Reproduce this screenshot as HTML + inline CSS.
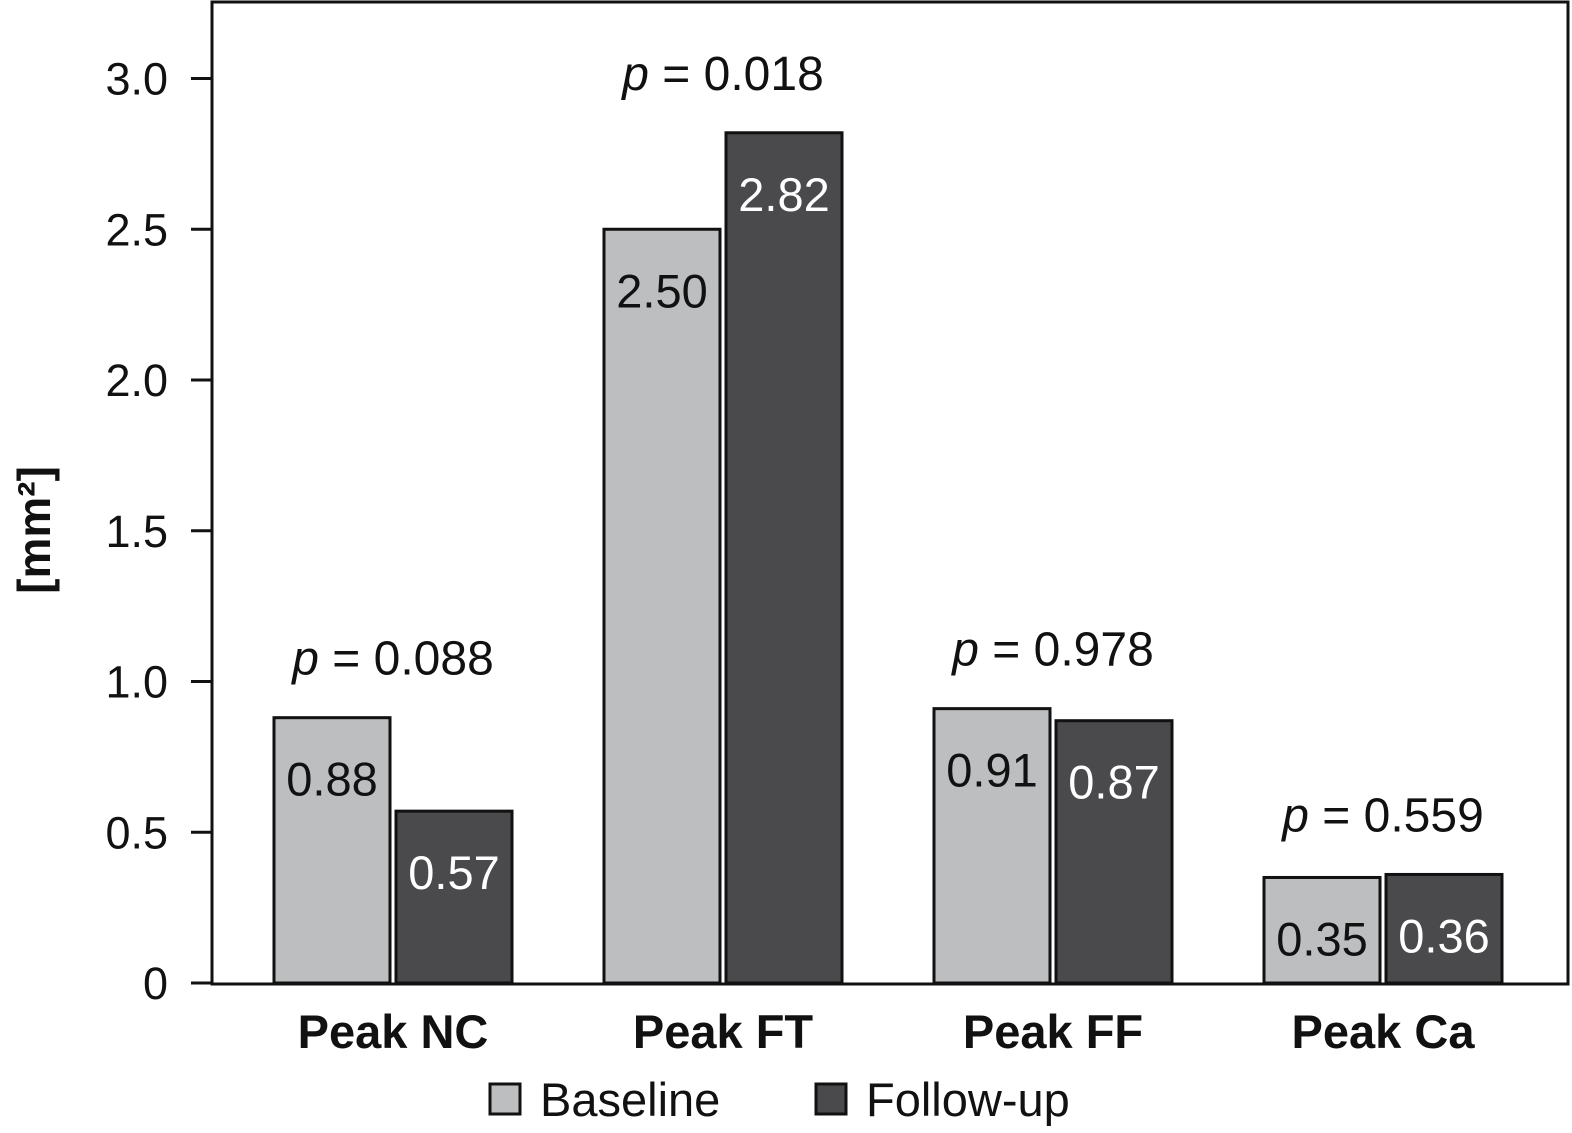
<!DOCTYPE html>
<html><head><meta charset="utf-8"><style>
html,body{margin:0;padding:0;background:#fff;}
svg{display:block;font-family:"Liberation Sans",sans-serif;}
</style></head><body>
<svg id="chart" width="1572" height="1133" viewBox="0 0 1572 1133">
<rect x="212" y="2" width="1356" height="982" fill="none" stroke="#111" stroke-width="3"/>
<text transform="translate(50,530) rotate(-90)" text-anchor="middle" font-size="46" font-weight="bold" fill="#111">[mm²]</text>
<g id="ticks"></g><g id="bars"></g>
<g>
<rect x="490" y="1084" width="30" height="30" fill="#bdbec0" stroke="#111" stroke-width="3"/>
<text x="540" y="1116" font-size="47" fill="#111">Baseline</text>
<rect x="816" y="1084" width="30" height="30" fill="#4a4a4c" stroke="#111" stroke-width="3"/>
<text x="866" y="1116" font-size="47" fill="#111">Follow-up</text>
</g>
</svg>
<script>
const categories=["Peak NC","Peak FT","Peak FF","Peak Ca"];
const baseline=[0.88,2.50,0.91,0.35];
const followup=[0.57,2.82,0.87,0.36];
const pvalues=["0.088","0.018","0.978","0.559"];
const yTicks=[0,0.5,1.0,1.5,2.0,2.5,3.0];
const yTickLabels=["0","0.5","1.0","1.5","2.0","2.5","3.0"];
const NS="http://www.w3.org/2000/svg";
const y0=983,pxPerUnit=301.5;
function y(v){return y0-v*pxPerUnit;}
function gx(i){return 393+i*330;}
function mk(tag,attrs,parent,text){const e=document.createElementNS(NS,tag);for(const k in attrs)e.setAttribute(k,attrs[k]);if(text!==undefined)e.textContent=text;parent.appendChild(e);return e;}
const tg=document.getElementById('ticks'),bg=document.getElementById('bars');
yTicks.forEach((t,i)=>{
  const l=mk('line',{x1:191,x2:212,y1:y(t),y2:y(t),stroke:'#111','stroke-width':3},tg);
  
  
  const tx=mk('text',{x:168,y:y(t)+16,'text-anchor':'end','font-size':45,fill:'#111'},tg,yTickLabels[i]);
  
  
});
const bw=116,gap=6;
categories.forEach((c,i)=>{
  const cx=gx(i);
  [[baseline[i],cx-gap/2-bw,'#bdbec0','#111','baseline'],[followup[i],cx+gap/2,'#4a4a4c','#fff','followup']].forEach(([v,x,f,tc,s])=>{
    const r=mk('rect',{x:x,y:y(v),width:bw,height:y0-y(v),fill:f,stroke:'#111','stroke-width':3},bg);
    
    
    const t=mk('text',{x:x+bw/2,y:y(v)+78,'text-anchor':'middle','font-size':47,fill:tc},bg,v.toFixed(2));
    
    
  });
  const top=Math.max(baseline[i],followup[i]);
  const p=mk('text',{x:cx,y:y(top)-43,'text-anchor':'middle','font-size':48,fill:'#111'},bg);
  
  
  mk('tspan',{'font-style':'italic'},p,'p');
  mk('tspan',{},p,' = '+pvalues[i]);
  const cl=mk('text',{x:cx,y:1048,'text-anchor':'middle','font-size':47,'font-weight':'bold',fill:'#111'},bg,c);
  
  
});
</script>
</body></html>
